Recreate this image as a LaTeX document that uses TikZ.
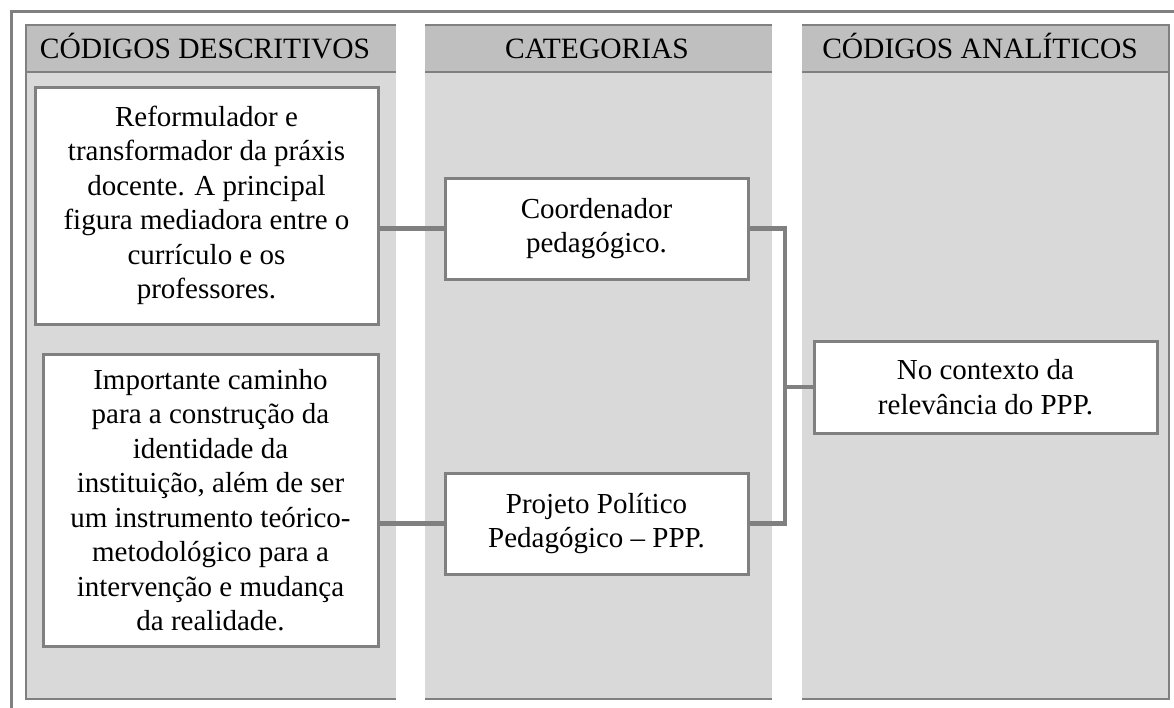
\documentclass[tikz,border=0pt]{standalone}
\usepackage{fontspec}
\setmainfont{Liberation Serif}
\definecolor{hdr}{HTML}{BFBFBF}
\definecolor{bodyg}{HTML}{D9D9D9}
\definecolor{edge}{HTML}{808080}
\tikzset{
  box/.style={draw=edge, line width=3pt, fill=white, inner sep=0pt, align=center,
    font=\fontsize{29}{34.5}\selectfont},
  conn/.style={draw=edge, line width=4.5pt, line join=miter},
  head/.style={inner sep=0pt, anchor=base, font=\fontsize{29.5}{34}\selectfont}
}
\begin{document}
\begin{tikzpicture}[x=1pt,y=-1pt]
\useasboundingbox (0,0) rectangle (1174,707);
% outer frame (cropped)
\draw[edge, line width=3pt] (11,710) -- (11,11) -- (1177,11);
% columns
\fill[bodyg] (26,25) rectangle (1169,699);
\fill[hdr] (26,25) rectangle (1169,72);
\draw[edge, line width=2pt] (26,72) -- (1169,72);
\draw[edge, line width=2pt] (26,25) rectangle (1169,699);
% white gaps
\fill[white] (396,24) rectangle (425,701);
\fill[white] (772,24) rectangle (802,701);
% headers
\node[head] (h1) at (205,58) {CÓDIGOS DESCRITIVOS};
\node[head] (h2) at (597,58) {CATEGORIAS};
\node[head] (h3) at (980,58) {CÓDIGOS ANALÍTICOS};
% boxes
\node[box, minimum width=343pt, minimum height=237pt] (A) at (206.5,205.5)
  {Reformulador e\\transformador da práxis\\docente. A principal\\figura mediadora entre o\\currículo e os\\professores.};
\node[box, minimum width=335pt, minimum height=292pt] (B) at (210.5,500)
  {Importante caminho\\para a construção da\\identidade da\\instituição, além de ser\\um instrumento teórico-\\metodológico para a\\intervenção e mudança\\da realidade.};
\node[box, minimum width=303pt, minimum height=101pt] (C) at (596.5,228.5)
  {Coordenador\\pedagógico.};
\node[box, minimum width=303pt, minimum height=101pt] (D) at (596.5,523.5)
  {Projeto Político\\Pedagógico -- PPP.};
\node[box, minimum width=343pt, minimum height=92pt] (E) at (985.5,387)
  {No contexto da\\relevância do PPP.};
\coordinate (j) at (785,387);
% connectors
\draw[conn] (C.west) -- (C.west -| A.east);
\draw[conn] (D.west) -- (D.west -| B.east);
\draw[conn] (C.east) -- (C.east -| j) -- (D.east -| j) -- (D.east);
\draw[conn] (E.west) -- (j);
\end{tikzpicture}
\end{document}
